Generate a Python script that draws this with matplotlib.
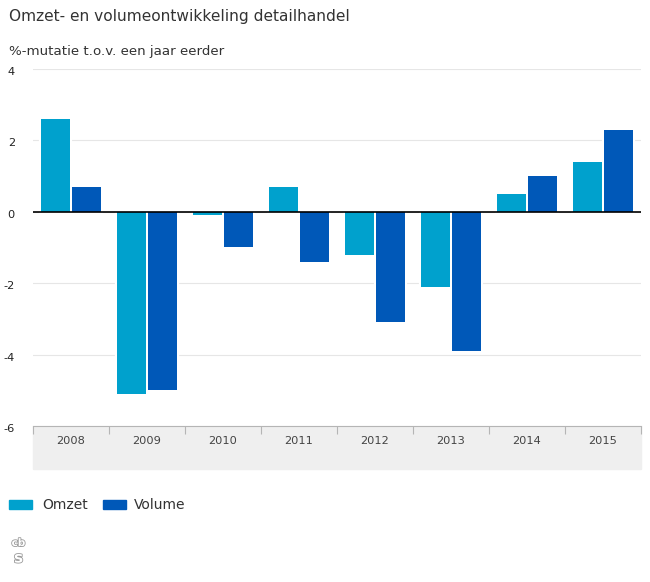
import matplotlib
matplotlib.use('Agg')
import matplotlib.pyplot as plt
import matplotlib.patheffects as pe
from matplotlib.patches import Rectangle
from numpy import arange

years = ['2008', '2009', '2010', '2011', '2012', '2013', '2014', '2015']
omzet = [2.6, -5.1, -0.1, 0.7, -1.2, -2.1, 0.5, 1.4]
volume = [0.7, -5.0, -1.0, -1.4, -3.1, -3.9, 1.0, 2.3]
yticks = [-6, -4, -2, 0, 2, 4]

plt.rcParams['font.family'] = ['DejaVu Sans']
W, H = 650, 582
TXT = '#333333'
fig = plt.figure(figsize=(W/100, H/100), dpi=100)
ax = fig.add_axes([33/W, 1-426/H, (641-33)/W, (426-69)/H])

x = arange(len(years))
# white halo first so the gridlines stop just short of the bars
ax.bar(x-0.205, omzet, 0.385, color='white', edgecolor='white', lw=3, zorder=2)
ax.bar(x+0.205, volume, 0.385, color='white', edgecolor='white', lw=3, zorder=2)
ax.bar(x-0.205, omzet, 0.385, color='#00a1cd', zorder=3)
ax.bar(x+0.205, volume, 0.385, color='#0058b8', zorder=3)
ax.axhline(0, color='black', lw=1.2, zorder=4)

ax.set_xlim(-0.5, 7.5)
ax.set_ylim(-6, 4)
ax.set_yticks(yticks)
ax.set_yticklabels([])
ax.yaxis.grid(True, color='#e6e6e6', lw=0.8)
ax.set_axisbelow(True)
ax.tick_params(axis='y', length=0)
for s in ['top', 'right', 'left']:
    ax.spines[s].set_visible(False)
ax.spines['bottom'].set_color('#b5b5b5')
for v in yticks:
    ax.annotate(str(v), (0, v), xycoords=('axes fraction', 'data'), xytext=(-13, -2.2), textcoords='offset points',
                ha='right', va='center', fontsize=8.2, color='#222222')

# year labels sit on a grey band below the axis
ax.set_xticks(arange(-0.5, 8, 1))
ax.set_xticklabels([])
ax.tick_params(axis='x', length=6, color='#b5b5b5', direction='out')
fig.add_artist(Rectangle((33/W, 1-469/H), (641-33)/W, 43/H, color='#efefef', zorder=0, transform=fig.transFigure))
for i, y in enumerate(years):
    ax.annotate(y, (i, 0), xycoords=('data', 'axes fraction'), xytext=(0, -10.5), textcoords='offset points',
                ha='center', va='center', fontsize=8.2, color='#444444')

fig.text(9/W, 1-16/H, 'Omzet- en volumeontwikkeling detailhandel', fontsize=11.1, color=TXT, va='center')
fig.text(9/W, 1-51/H, '%-mutatie t.o.v. een jaar eerder', fontsize=9.6, color=TXT, va='center')

fig.add_artist(Rectangle((9/W, 1-509/H), 23/W, 9/H, color='#00a1cd', transform=fig.transFigure))
fig.text(42/W, 1-505/H, 'Omzet', fontsize=10, color=TXT, va='center')
fig.add_artist(Rectangle((103/W, 1-509/H), 23/W, 9/H, color='#0058b8', transform=fig.transFigure))
fig.text(134/W, 1-505/H, 'Volume', fontsize=10, color=TXT, va='center')

# logo, hollow grey letters stacked
outline = [pe.withStroke(linewidth=1.2, foreground='#9a9a9a')]
fig.text(18.5/W, 1-543/H, 'cb', fontsize=7.5, color='white', ha='center', va='center', fontweight='bold', path_effects=outline)
fig.text(18.5/W, 1-558/H, 's', fontsize=11, color='white', ha='center', va='center', fontweight='bold', path_effects=outline)

fig.savefig('out.png', dpi=100)
